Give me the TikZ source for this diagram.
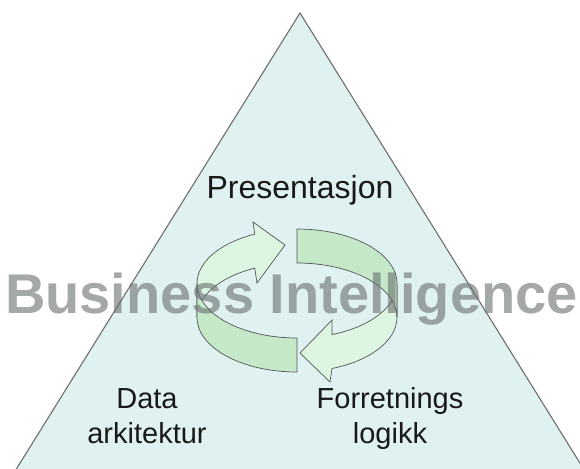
\documentclass[tikz,border=0pt]{standalone}
\usepackage{fontspec}
\setmainfont{Liberation Sans}
\definecolor{tricyan}{RGB}{224,241,241}
\definecolor{triedge}{RGB}{110,110,110}
\definecolor{lightgreen}{RGB}{221,246,226}
\definecolor{darkgreen}{RGB}{197,232,200}
\definecolor{arrowedge}{RGB}{85,85,85}
\definecolor{wmgray}{RGB}{105,110,110}
\definecolor{labeltext}{RGB}{25,25,25}
\tikzset{
  tri/.style={fill=tricyan, draw=triedge, line width=1.1pt, line join=miter},
  lightpiece/.style={fill=lightgreen, draw=arrowedge, line width=0.7pt, line join=miter},
  darkpiece/.style={fill=darkgreen, draw=arrowedge, line width=0.7pt, line join=miter},
  lbl/.style={inner sep=0pt, anchor=base, text=labeltext, font=\fontsize{29}{29}\selectfont},
  watermark/.style={inner sep=0pt, anchor=base, text=wmgray, text opacity=0.6, font=\fontsize{56}{56}\selectfont\bfseries}
}
\begin{document}
\begin{tikzpicture}[x=1pt, y=-1pt]
  \useasboundingbox (0,0) rectangle (580,468);
  \fill[white] (0,0) rectangle (580,468);
  \begin{scope}
    \clip (0,0) rectangle (580,468);
    % triangle
    \coordinate (apex) at (300,13);
    \coordinate (bl) at (9.5,480);
    \coordinate (br) at (590.5,480);
    \draw[tri] (apex) -- (bl) -- (br) -- cycle;

    % left arrow: back (lighter) piece with head
    \draw[lightpiece] (197,283.5)
      arc[start angle=180, end angle=245, x radius=100, y radius=54.5]
      -- (253,222) -- (285,245) -- (257,283)
      -- (254.7,268.1)
      arc[start angle=245, end angle=180, x radius=100, y radius=54.5]
      -- cycle;
    % right arrow: lower (lighter) piece with head
    \draw[lightpiece] (397,283.5)
      arc[start angle=0, end angle=69.5, x radius=100, y radius=54.5]
      -- (332,320) -- (300,353) -- (330,382)
      -- (332,368.5)
      arc[start angle=69.5, end angle=0, x radius=100, y radius=54.5]
      -- cycle;
    % left arrow: front (darker) piece
    \draw[darkpiece] (297,338) -- (297,372)
      arc[start angle=90, end angle=180, x radius=100, y radius=54.5]
      -- (197,283.5)
      arc[start angle=180, end angle=90, x radius=100, y radius=54.5]
      -- cycle;
    % right arrow: upper (darker) piece
    \draw[darkpiece] (297,229) -- (297,263)
      arc[start angle=270, end angle=360, x radius=100, y radius=54.5]
      -- (397,283.5)
      arc[start angle=360, end angle=270, x radius=100, y radius=54.5]
      -- cycle;

    % labels
    \node[lbl, font=\fontsize{32}{32}\selectfont] (pres) at (300,198) {Presentasjon};
    \node[lbl] (data1) at (147,408) {Data};
    \node[lbl] (data2) at (147,443) {arkitektur};
    \node[lbl] (forr1) at (390,408) {Forretnings};
    \node[lbl] (forr2) at (390,443) {logikk};

    % watermark title
    \node[watermark] (bi) at (291.5,313) {Business Intelligence};
  \end{scope}
\end{tikzpicture}
\end{document}
